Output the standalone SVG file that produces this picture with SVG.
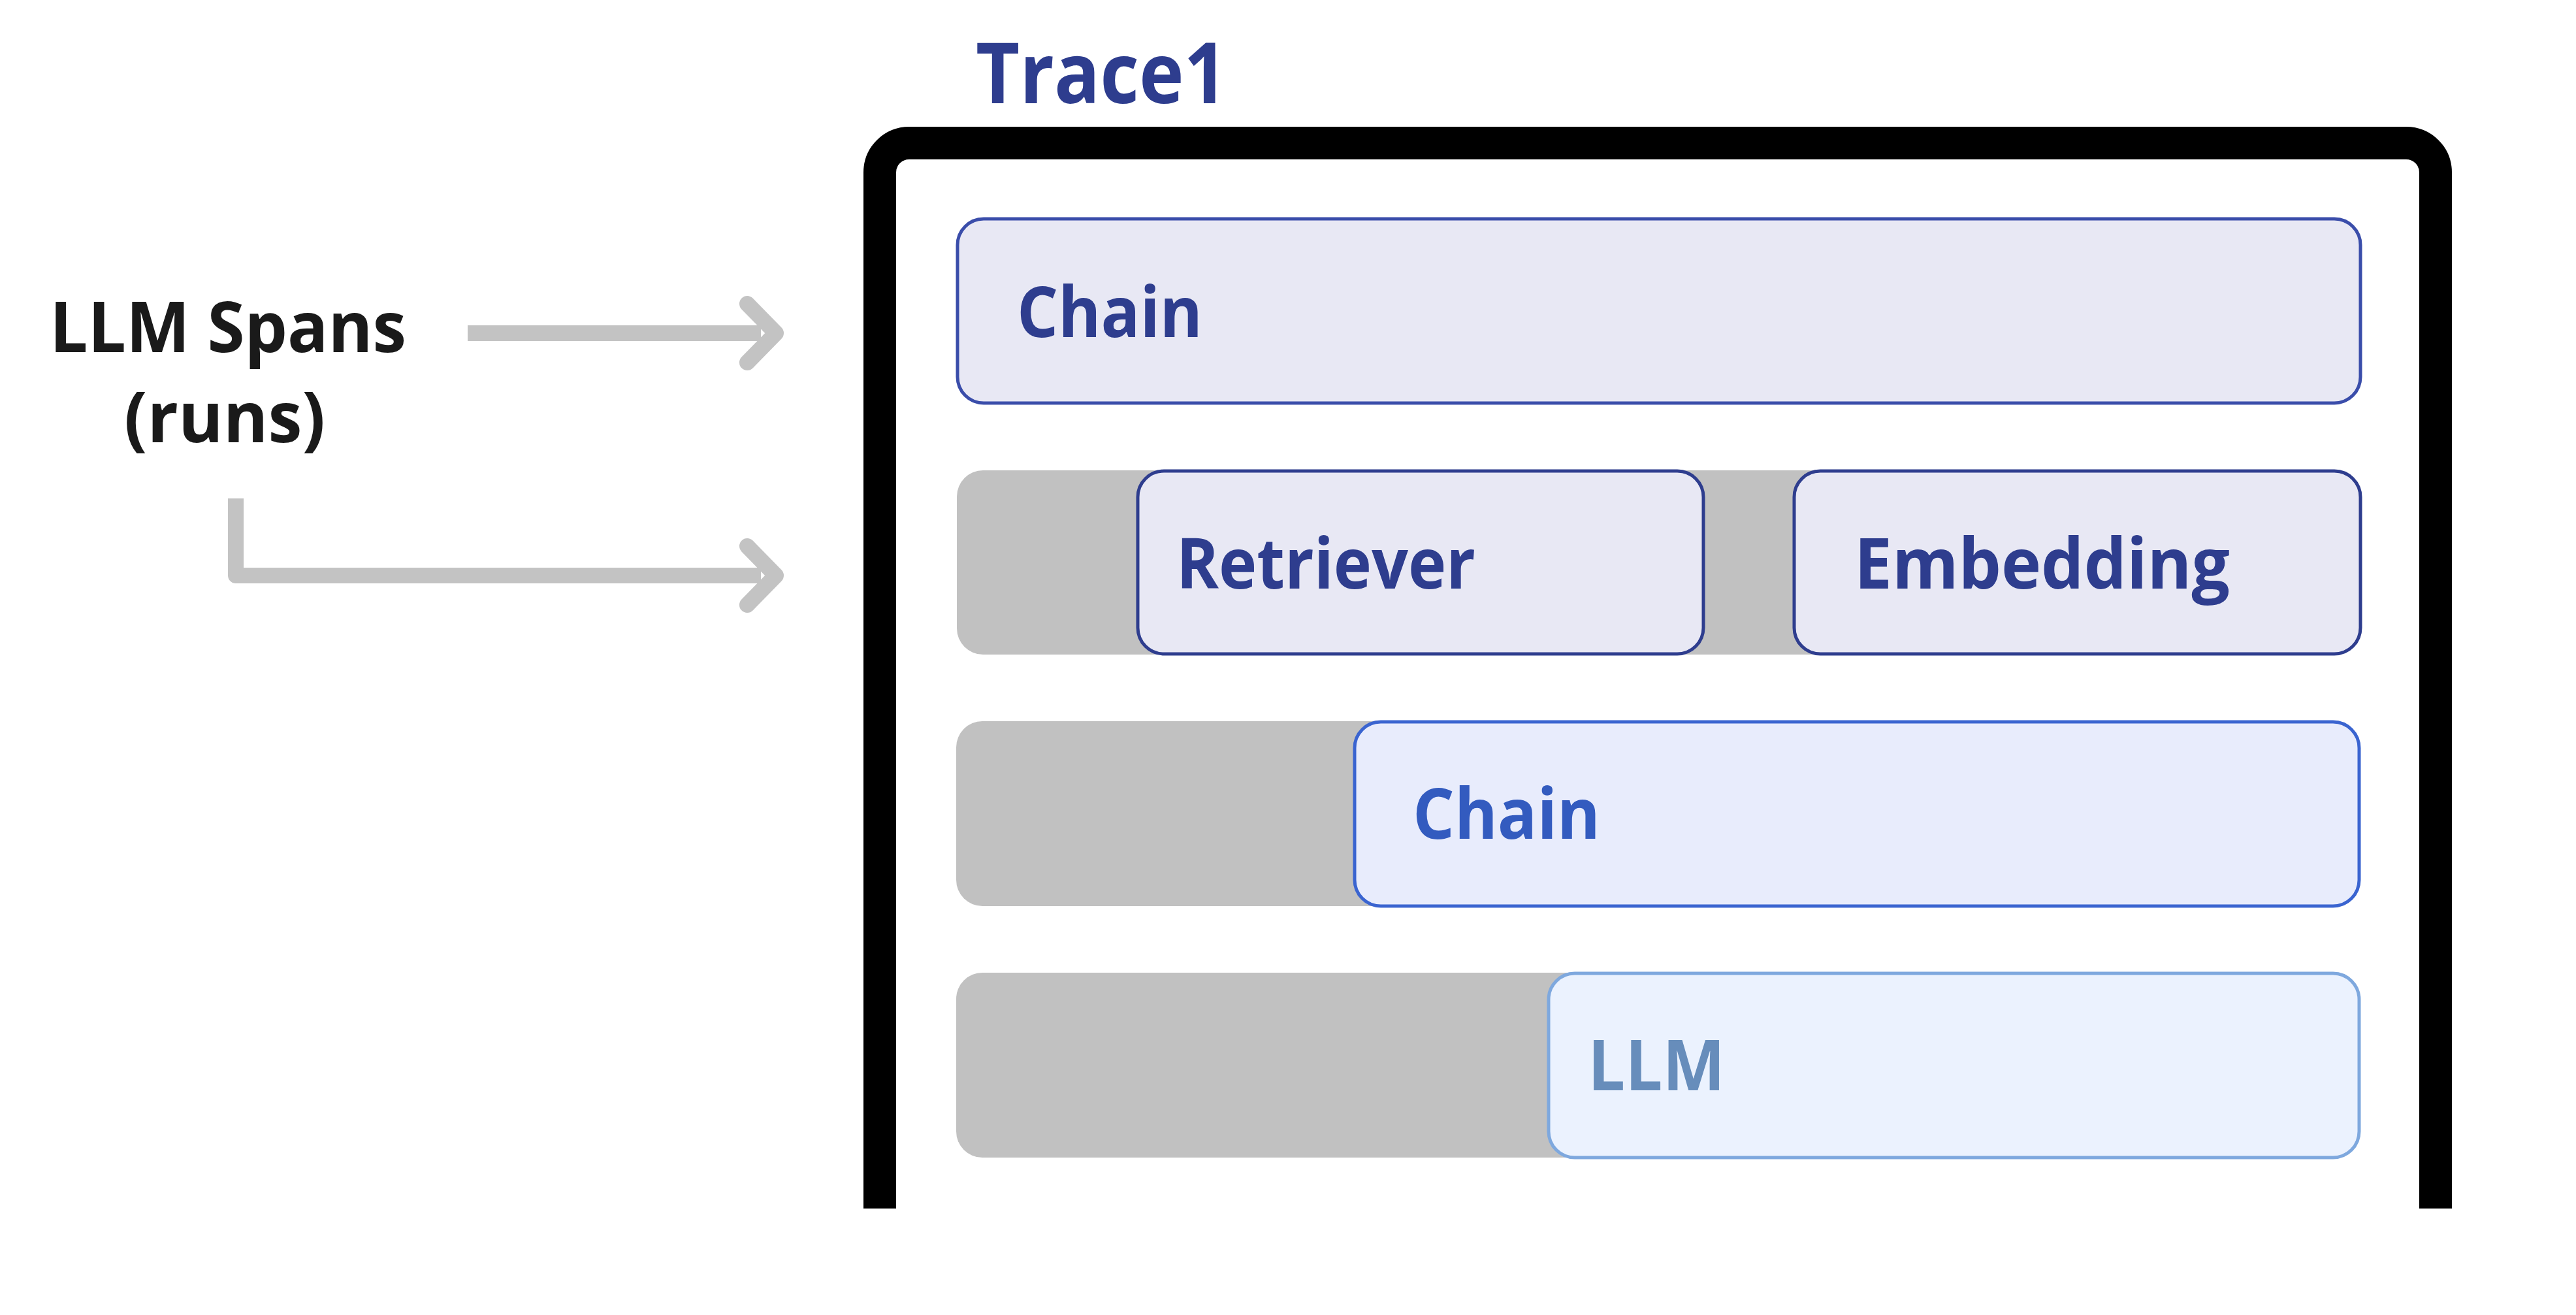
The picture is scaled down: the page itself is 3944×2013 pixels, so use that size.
<svg xmlns="http://www.w3.org/2000/svg" width="3944" height="2013" viewBox="0 0 3944 2013">
<style>
text{font-family:"Open Sans","Noto Sans","DejaVu Sans",sans-serif;font-weight:700}
.lbl{font-size:108px}
.bg{fill:#C1C1C1}
.s1{fill:#E8E8F4;stroke:#3A4DAA;stroke-width:5}
.s2{fill:#E8E8F4;stroke:#2E3D8E;stroke-width:5}
.s3{fill:#E8ECFC;stroke:#3A64D0;stroke-width:5}
.s4{fill:#EBF2FE;stroke:#7EA8DE;stroke-width:5}
.c{fill:none;stroke:#C3C3C3;stroke-width:24}
.head{fill:none;stroke:#C3C3C3;stroke-width:24;stroke-linecap:round;stroke-linejoin:round}
</style>
<rect width="3944" height="2013" fill="#FFFFFF"/>
<g id="frame">
<path d="M1347,1850 V264 A45,45 0 0 1 1392,219 H3684 A45,45 0 0 1 3729,264 V1850" fill="none" stroke="#000000" stroke-width="50"/>
<text x="1494" y="158" font-size="129" fill="#2E3D8E" textLength="385" lengthAdjust="spacingAndGlyphs">Trace1</text>
</g>
<g id="label">
<text x="76" y="539" font-size="108" fill="#1A1A1A" textLength="546" lengthAdjust="spacingAndGlyphs">LLM Spans</text>
<text x="190" y="677" font-size="108" fill="#1A1A1A" textLength="308" lengthAdjust="spacingAndGlyphs">(runs)</text>
</g>
<g id="connectors">
<path class="c" d="M716,510 H1165"/>
<polyline class="head" points="1144,465 1188,510 1144,555"/>
<path class="c" d="M361,763 V881 H1165" stroke-linejoin="round"/>
<polyline class="head" points="1144,836 1188,881 1144,926"/>
</g>
<g id="row1">
<rect class="s1" x="1466" y="335" width="2148" height="282" rx="40"/>
<text class="lbl" x="1557" y="516" fill="#2E3D8E" textLength="284" lengthAdjust="spacingAndGlyphs">Chain</text>
</g>
<g id="row2">
<rect class="bg" x="1465" y="720" width="2149" height="282" rx="40"/>
<g id="retriever">
<rect class="s2" x="1742" y="721" width="866" height="280" rx="40"/>
<text class="lbl" x="1801" y="901" fill="#2E3D8E" textLength="458" lengthAdjust="spacingAndGlyphs">Retriever</text>
</g>
<g id="embedding">
<rect class="s2" x="2747" y="721" width="867" height="280" rx="40"/>
<text class="lbl" x="2839" y="901" fill="#2E3D8E" textLength="575" lengthAdjust="spacingAndGlyphs">Embedding</text>
</g>
</g>
<g id="row3">
<rect class="bg" x="1464" y="1104" width="2148" height="283" rx="40"/>
<g id="chain2">
<rect class="s3" x="2074" y="1105" width="1538" height="282" rx="40"/>
<text class="lbl" x="2163" y="1284" fill="#335BBF" textLength="287" lengthAdjust="spacingAndGlyphs">Chain</text>
</g>
</g>
<g id="row4">
<rect class="bg" x="1464" y="1489" width="2148" height="283" rx="40"/>
<g id="llm">
<rect class="s4" x="2371" y="1490" width="1241" height="282" rx="40"/>
<text class="lbl" x="2431" y="1669" fill="#678DBB" textLength="210" lengthAdjust="spacingAndGlyphs">LLM</text>
</g>
</g>
</svg>
